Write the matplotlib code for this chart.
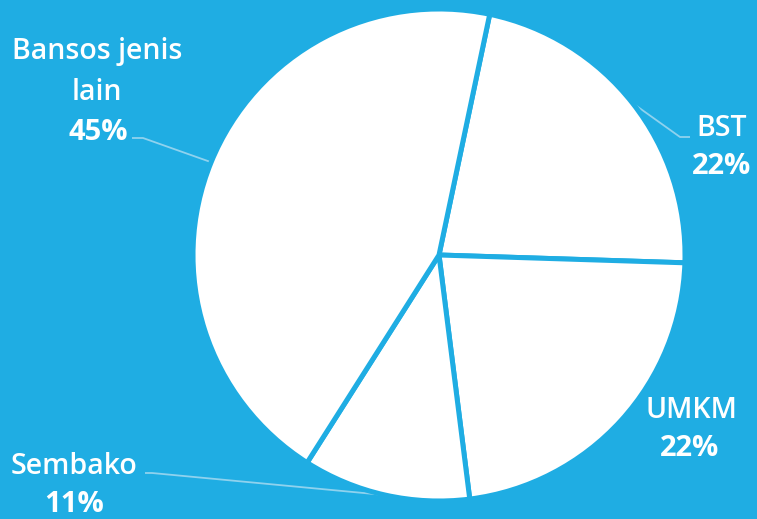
import matplotlib
matplotlib.use("Agg")
import matplotlib.pyplot as plt
import numpy as np

categories = ["BST", "UMKM", "Sembako", "Bansos jenis\nlain"]
values = [22.2, 22.5, 11.0, 44.3]
pct_labels = ["22%", "22%", "11%", "45%"]

BG = "#1FADE3"
LEADER = "#8FD2EE"

W, H = 757, 519
cx, cy, R = 439, 255, 246

def px(x, y):
    return ((x - cx) / R, (cy - y) / R)

fig = plt.figure(figsize=(W / 100, H / 100), dpi=100, facecolor=BG)
ax = fig.add_axes([0, 0, 1, 1])
ax.set_facecolor(BG)

wedges, _ = ax.pie(values, startangle=78.1, counterclock=False,
                   colors=["white"] * len(values), radius=1.0,
                   wedgeprops=dict(edgecolor=BG, linewidth=3.6),
                   frame=True)
ax.set_aspect("auto")
ax.set_xlim(-cx / R, (W - cx) / R)
ax.set_ylim(-(H - cy) / R, cy / R)
ax.axis("off")

font = "Open Sans"
name_kw = dict(color="white", fontsize=20.5, family=font, ha="center", va="center", weight="semibold")
pct_kw = dict(color="white", fontsize=21, family=font, ha="center", va="center", weight="bold")

# label layout (pixel positions)
layout = {
    "BST": dict(name=[(722, 129)], pct=(722, 167), lead=[(690, 137), (680, 137)]),
    "UMKM": dict(name=[(691, 410)], pct=(690, 449), lead=None),
    "Sembako": dict(name=[(74, 467)], pct=(74, 505), lead=[(145, 473), (152, 473)]),
    "Bansos jenis\nlain": dict(name=[(97, 52), (97, 93)], pct=(98, 132), lead=[(132, 138), (143, 138)]),
}

for w, cat, pl in zip(wedges, categories, pct_labels):
    L = layout[cat]
    parts = cat.split("\n")
    for t, pos in zip(parts, L["name"]):
        ax.text(*px(*pos), t, **name_kw)
    ax.text(*px(*L["pct"]), pl, **pct_kw)
    if L["lead"]:
        mid = np.deg2rad((w.theta1 + w.theta2) / 2)
        ex, ey = 1.0 * np.cos(mid), 1.0 * np.sin(mid)
        p0 = px(*L["lead"][0])
        p1 = px(*L["lead"][1])
        ax.plot([p0[0], p1[0], ex], [p0[1], p1[1], ey], color=LEADER, lw=1.3,
                solid_capstyle="butt", zorder=0.5)

fig.savefig("out.png", dpi=100, facecolor=BG)
